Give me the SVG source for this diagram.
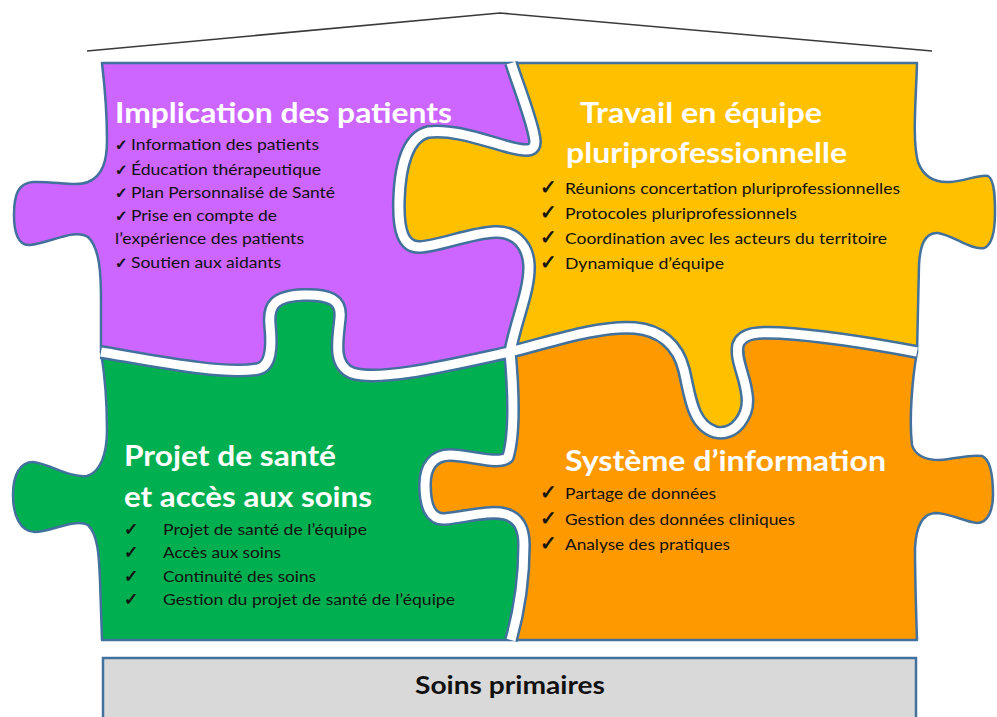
<svg xmlns="http://www.w3.org/2000/svg" width="997" height="717" viewBox="0 0 997 717">
<style>
.piece{stroke:#41719c;stroke-width:2.5;stroke-linejoin:round}
.seamb{fill:none;stroke:#41719c;stroke-width:14;stroke-linejoin:round}
.seamw{fill:none;stroke:#ffffff;stroke-width:9;stroke-linejoin:round}
.title{font-family:Lato,"Liberation Sans",sans-serif;font-weight:bold;font-size:29px;fill:#ffffff}
.item{font-family:Lato,"Liberation Sans",sans-serif;font-size:16px;fill:#111111}
.chk{font-family:"DejaVu Sans",sans-serif;fill:#111111;stroke:#111111;stroke-width:0.7}
</style>
<defs>
<path id="v1" d="M 511 63 C 518 85, 530 115, 534 135 C 538 152, 530 153, 505 146 C 480 139, 452 129, 428 132 C 408 137, 400 165, 399 200 C 398 230, 403 248, 420 247 C 440 246, 470 233, 495 232 C 515 231, 528 245, 529 265 C 530 290, 516 320, 510 352"/>
<path id="v2" d="M 510 352 C 513 385, 516 430, 508 457 C 500 466, 470 455, 450 455 C 435 455, 425 465, 425 485 C 425 505, 430 520, 445 519 C 465 517, 490 510, 505 514 C 520 518, 524 530, 524 545 C 524 580, 518 615, 511 640"/>
<path id="h1" d="M 101 352 C 160 362, 225 375, 258 369 C 272 366, 272 345, 270 325 C 268 305, 275 296, 303 295 C 330 294, 342 300, 340 318 C 338 340, 332 365, 352 373 C 380 382, 450 365, 510 352"/>
<path id="h2" d="M 510 352 C 550 342, 600 325, 635 328 C 660 330, 678 345, 684 370 C 690 395, 692 425, 715 432 C 735 437, 750 415, 747 395 C 745 375, 735 360, 738 345 C 742 332, 760 332, 780 333 C 830 336, 880 345, 917 352"/>
</defs>

<g id="roof">
<polyline points="87,51 500,13 932,51" fill="none" stroke="#3a3a3a" stroke-width="1.6"/>
</g>

<g id="implication-shape">
<path class="piece" fill="#cc66ff" d="M 102 63 L 511 63 C 518 85, 530 115, 534 135 C 538 152, 530 153, 505 146 C 480 139, 452 129, 428 132 C 408 137, 400 165, 399 200 C 398 230, 403 248, 420 247 C 440 246, 470 233, 495 232 C 515 231, 528 245, 529 265 C 530 290, 516 320, 510 352 C 450 365, 380 382, 352 373 C 332 365, 338 340, 340 318 C 342 300, 330 294, 303 295 C 275 296, 268 305, 270 325 C 272 345, 272 366, 258 369 C 225 375, 160 362, 101 352 L 101 300 C 101 275, 100 248, 88 237 C 75 228, 50 243, 30 245 C 18 246, 14 232, 14 215 C 14 195, 18 183, 33 182 C 55 181, 75 187, 88 182 C 103 176, 107 160, 107 140 C 107 110, 104 80, 102 63 Z"/>
</g>
<g id="travail-shape">
<path class="piece" fill="#ffc000" d="M 511 63 L 917 63 C 916 100, 912 140, 918 162 C 924 178, 935 183, 950 182 C 965 181, 980 174, 988 176 C 995 180, 995 200, 995 212 C 995 230, 993 245, 984 248 C 970 250, 955 236, 938 233 C 925 232, 920 245, 919 265 L 917 352 C 880 345, 830 336, 780 333 C 760 332, 742 332, 738 345 C 735 360, 745 375, 747 395 C 750 415, 735 437, 715 432 C 692 425, 690 395, 684 370 C 678 345, 660 330, 635 328 C 600 325, 550 342, 510 352 C 516 320, 530 290, 529 265 C 528 245, 515 231, 495 232 C 470 233, 440 246, 420 247 C 403 248, 398 230, 399 200 C 400 165, 408 137, 428 132 C 452 129, 480 139, 505 146 C 530 153, 538 152, 534 135 C 530 115, 518 85, 511 63 Z"/>
</g>
<g id="projet-shape">
<path class="piece" fill="#00b050" d="M 101 352 C 160 362, 225 375, 258 369 C 272 366, 272 345, 270 325 C 268 305, 275 296, 303 295 C 330 294, 342 300, 340 318 C 338 340, 332 365, 352 373 C 380 382, 450 365, 510 352 C 513 385, 516 430, 508 457 C 500 466, 470 455, 450 455 C 435 455, 425 465, 425 485 C 425 505, 430 520, 445 519 C 465 517, 490 510, 505 514 C 520 518, 524 530, 524 545 C 524 580, 518 615, 511 640 L 102 640 L 100 580 C 99 555, 98 535, 88 525 C 75 518, 50 532, 35 532 C 20 532, 13 515, 13 495 C 13 475, 20 462, 33 462 C 50 464, 70 478, 87 476 C 100 472, 107 455, 107 430 C 107 400, 104 370, 101 352 Z"/>
</g>
<g id="systeme-shape">
<path class="piece" fill="#ff9900" d="M 510 352 C 550 342, 600 325, 635 328 C 660 330, 678 345, 684 370 C 690 395, 692 425, 715 432 C 735 437, 750 415, 747 395 C 745 375, 735 360, 738 345 C 742 332, 760 332, 780 333 C 830 336, 880 345, 917 352 C 912 380, 909 420, 912 445 C 915 455, 925 460, 940 460 C 955 459, 970 454, 982 456 C 992 460, 993 480, 993 495 C 993 510, 988 523, 977 523 C 965 522, 950 513, 935 513 C 922 514, 916 528, 915 548 C 915 580, 916 610, 917 640 L 511 640 C 518 615, 524 580, 524 545 C 524 530, 520 518, 505 514 C 490 510, 465 517, 445 519 C 430 520, 425 505, 425 485 C 425 465, 435 455, 450 455 C 470 455, 500 466, 508 457 C 516 430, 513 385, 510 352 Z"/>
</g>

<g id="seams">
<use href="#v1" class="seamb"/><use href="#v2" class="seamb"/><use href="#h1" class="seamb"/><use href="#h2" class="seamb"/>
<use href="#v1" class="seamw"/><use href="#v2" class="seamw"/><use href="#h1" class="seamw"/><use href="#h2" class="seamw"/>
</g>

<g id="implication">
<text class="title" x="115" y="123" textLength="337" lengthAdjust="spacingAndGlyphs">Implication des patients</text>
<text class="chk" font-size="15" x="115" y="150">✓</text><text class="item" x="131" y="150" textLength="188" lengthAdjust="spacingAndGlyphs">Information des patients</text>
<text class="chk" font-size="15" x="115" y="175">✓</text><text class="item" x="131" y="175" textLength="190" lengthAdjust="spacingAndGlyphs">Éducation thérapeutique</text>
<text class="chk" font-size="15" x="115" y="198">✓</text><text class="item" x="131" y="198" textLength="204" lengthAdjust="spacingAndGlyphs">Plan Personnalisé de Santé</text>
<text class="chk" font-size="15" x="115" y="221">✓</text><text class="item" x="131" y="221" textLength="146" lengthAdjust="spacingAndGlyphs">Prise en compte de</text>
<text class="item" x="115" y="244" textLength="189" lengthAdjust="spacingAndGlyphs">l’expérience des patients</text>
<text class="chk" font-size="15" x="115" y="268">✓</text><text class="item" x="131" y="268" textLength="150" lengthAdjust="spacingAndGlyphs">Soutien aux aidants</text>
</g>

<g id="travail">
<text class="title" x="580" y="123" textLength="242" lengthAdjust="spacingAndGlyphs">Travail en équipe</text>
<text class="title" x="566" y="163" textLength="281" lengthAdjust="spacingAndGlyphs">pluriprofessionnelle</text>
<text class="chk" font-size="20" x="540" y="194">✓</text><text class="item" x="565" y="194" textLength="335" lengthAdjust="spacingAndGlyphs">Réunions concertation pluriprofessionnelles</text>
<text class="chk" font-size="20" x="540" y="219">✓</text><text class="item" x="565" y="219" textLength="232" lengthAdjust="spacingAndGlyphs">Protocoles pluriprofessionnels</text>
<text class="chk" font-size="20" x="540" y="244">✓</text><text class="item" x="565" y="244" textLength="322" lengthAdjust="spacingAndGlyphs">Coordination avec les acteurs du territoire</text>
<text class="chk" font-size="20" x="540" y="269">✓</text><text class="item" x="565" y="269" textLength="159" lengthAdjust="spacingAndGlyphs">Dynamique d’équipe</text>
</g>

<g id="projet">
<text class="title" x="124" y="466" textLength="212" lengthAdjust="spacingAndGlyphs">Projet de santé</text>
<text class="title" x="124" y="507" textLength="248" lengthAdjust="spacingAndGlyphs">et accès aux soins</text>
<text class="chk" font-size="17" x="124" y="535">✓</text><text class="item" x="163" y="535" textLength="204" lengthAdjust="spacingAndGlyphs">Projet de santé de l’équipe</text>
<text class="chk" font-size="17" x="124" y="558">✓</text><text class="item" x="163" y="558" textLength="118" lengthAdjust="spacingAndGlyphs">Accès aux soins</text>
<text class="chk" font-size="17" x="124" y="582">✓</text><text class="item" x="163" y="582" textLength="153" lengthAdjust="spacingAndGlyphs">Continuité des soins</text>
<text class="chk" font-size="17" x="124" y="605">✓</text><text class="item" x="163" y="605" textLength="292" lengthAdjust="spacingAndGlyphs">Gestion du projet de santé de l’équipe</text>
</g>

<g id="systeme">
<text class="title" x="565" y="471" textLength="321" lengthAdjust="spacingAndGlyphs">Système d’information</text>
<text class="chk" font-size="20" x="540" y="499">✓</text><text class="item" x="565" y="499" textLength="151" lengthAdjust="spacingAndGlyphs">Partage de données</text>
<text class="chk" font-size="20" x="540" y="525">✓</text><text class="item" x="565" y="525" textLength="230" lengthAdjust="spacingAndGlyphs">Gestion des données cliniques</text>
<text class="chk" font-size="20" x="540" y="550">✓</text><text class="item" x="565" y="550" textLength="165" lengthAdjust="spacingAndGlyphs">Analyse des pratiques</text>
</g>

<g id="soins-primaires">
<rect x="103" y="658" width="813" height="70" fill="#d9d9d9" stroke="#41719c" stroke-width="2.5"/>
<text x="510" y="694" text-anchor="middle" textLength="190" lengthAdjust="spacingAndGlyphs" font-family="Lato, 'Liberation Sans', sans-serif" font-weight="bold" font-size="24" fill="#111111">Soins primaires</text>
</g>
</svg>
